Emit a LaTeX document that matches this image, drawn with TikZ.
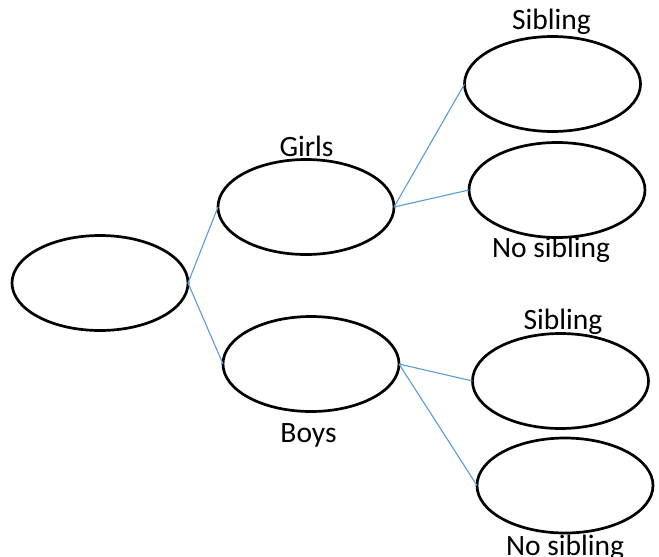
\documentclass[tikz,border=0pt]{standalone}
\usepackage{fontspec}
\setmainfont{Carlito}
\usetikzlibrary{shapes.geometric}
\definecolor{linkblue}{HTML}{5B9BD5}
\begin{document}
\begin{tikzpicture}[x=1pt,y=-1pt,
  oval/.style={ellipse, draw=black, line width=2.7pt, fill=white,
    minimum width=176pt, minimum height=95pt, inner sep=0pt, outer sep=0pt},
  link/.style={draw=linkblue, line width=1.1pt},
  tag/.style={anchor=base, inner sep=0pt, font=\fontsize{29.5}{35}\selectfont}]
  \useasboundingbox (0,0) rectangle (659,557);

  % ovals of the tree
  \node[oval] (root)   at (100,283)   {};
  \node[oval] (girls)  at (306,207)   {};
  \node[oval] (boys)   at (311,364)   {};
  \node[oval] (gsib)   at (552.5,84)  {};
  \node[oval] (gnosib) at (557,190)   {};
  \node[oval] (bsib)   at (560.5,381) {};
  \node[oval] (bnosib) at (565,485.5) {};

  % branches
  \draw[link] (root.east)  -- (girls.west);
  \draw[link] (root.east)  -- (boys.west);
  \draw[link] (girls.east) -- (gsib.west);
  \draw[link] (girls.east) -- (gnosib.west);
  \draw[link] (boys.east)  -- (bsib.west);
  \draw[link] (boys.east)  -- (bnosib.west);

  % labels
  \node[tag] (lgsib)   at (551.5,29) {Sibling};
  \node[tag] (lgirls)  at (306.5,156) {Girls};
  \node[tag] (lgnosib) at (551,257) {No sibling};
  \node[tag] (lbsib)   at (563,329) {Sibling};
  \node[tag] (lboys)   at (308.5,442) {Boys};
  \node[tag] (lbnosib) at (565,555) {No sibling};
\end{tikzpicture}
\end{document}
